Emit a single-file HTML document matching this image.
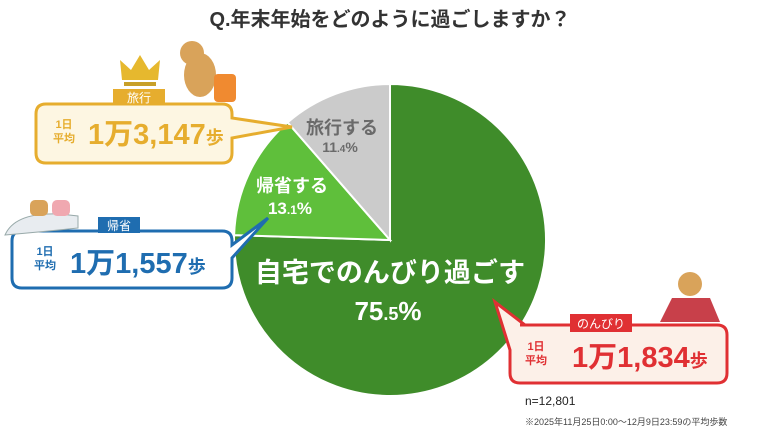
<!DOCTYPE html>
<html><head><meta charset="utf-8"><style>
body{margin:0;width:780px;height:438px;background:#fff;overflow:hidden;font-family:"Liberation Sans","Noto Sans CJK JP",sans-serif}
</style></head><body>
<svg width="780" height="438" viewBox="0 0 780 438" xmlns="http://www.w3.org/2000/svg" font-family="Liberation Sans, Noto Sans CJK JP, sans-serif">
<text x="390" y="26" text-anchor="middle" font-size="20" font-weight="bold" fill="#333">Q.年末年始をどのように過ごしますか？</text>
<!-- pie -->
<g stroke="#fff" stroke-width="2">
<path d="M390 240 L390 84 A156 156 0 1 1 234.1 235.1 Z" fill="#3f8c2a"/>
<path d="M390 240 L234.1 235.1 A156 156 0 0 1 287.6 122.4 Z" fill="#5fbf3b"/>
<path d="M390 240 L287.6 122.4 A156 156 0 0 1 390 84 Z" fill="#cbcbcb"/>
</g>
<text x="342" y="134" text-anchor="middle" font-size="18" font-weight="bold" fill="#6a6a6a">旅行する</text>
<text x="340" y="152" text-anchor="middle" font-size="14" font-weight="bold" fill="#6a6a6a">11<tspan font-size="10">.4</tspan>%</text>
<text x="292" y="192" text-anchor="middle" font-size="18" font-weight="bold" fill="#fff">帰省する</text>
<text x="290" y="214" text-anchor="middle" font-size="17" font-weight="bold" fill="#fff">13<tspan font-size="12">.1</tspan>%</text>
<text x="390" y="282" text-anchor="middle" font-size="27" font-weight="bold" fill="#fff">自宅でのんびり過ごす</text>
<text x="388" y="320" text-anchor="middle" font-size="26" font-weight="bold" fill="#fff">75<tspan font-size="18">.5</tspan>%</text>
<!-- yellow box -->
<path d="M46 104 H222 Q232 104 232 114 V118 L292 127 L232 138 V153 Q232 163 222 163 H46 Q36 163 36 153 V114 Q36 104 46 104 Z" fill="#fdf6e2" stroke="#e6ad2e" stroke-width="3"/>
<rect x="113" y="89" width="52" height="16" fill="#e6ad2e"/>
<text x="139" y="102" text-anchor="middle" font-size="12" fill="#fff">旅行</text>
<text x="64" y="128" text-anchor="middle" font-size="11" font-weight="bold" fill="#e6ad2e">1日</text>
<text x="64" y="142" text-anchor="middle" font-size="11" font-weight="bold" fill="#e6ad2e">平均</text>
<text x="88" y="144" font-size="29" font-weight="bold" fill="#e6ad2e">1万3,147<tspan font-size="18">歩</tspan></text>
<!-- crown -->
<path d="M122 80 L120 60 L131 70 L140 55 L149 70 L160 60 L158 80 Z" fill="#e6b82e"/>
<rect x="124" y="82" width="32" height="4" fill="#c8a02a"/>
<!-- bear travel -->
<ellipse cx="200" cy="75" rx="16" ry="22" fill="#d9a35a"/>
<circle cx="192" cy="53" r="12" fill="#d9a35a"/>
<rect x="214" y="74" width="22" height="28" rx="4" fill="#f08a30"/>
<!-- blue box -->
<path d="M22 231 H222 Q232 231 232 241 V245 L268 218 L232 258 V278 Q232 288 222 288 H22 Q12 288 12 278 V241 Q12 231 22 231 Z" fill="#fff" stroke="#1f6db0" stroke-width="3"/>
<rect x="98" y="217" width="42" height="16" fill="#1f6db0"/>
<text x="119" y="230" text-anchor="middle" font-size="12" fill="#fff">帰省</text>
<text x="45" y="255" text-anchor="middle" font-size="11" font-weight="bold" fill="#1f6db0">1日</text>
<text x="45" y="269" text-anchor="middle" font-size="11" font-weight="bold" fill="#1f6db0">平均</text>
<text x="70" y="273" font-size="29" font-weight="bold" fill="#1f6db0">1万1,557<tspan font-size="18">歩</tspan></text>
<!-- train & bears -->
<path d="M5 235 Q15 212 60 214 L78 216 L78 228 Q40 232 5 235 Z" fill="#e8ecf0" stroke="#9aa" stroke-width="1"/>
<rect x="30" y="200" width="18" height="16" rx="5" fill="#d9a35a"/>
<rect x="52" y="200" width="18" height="16" rx="5" fill="#f0a8b0"/>
<!-- red box -->
<path d="M520 325 H717 Q727 325 727 335 V373 Q727 383 717 383 H520 Q510 383 510 373 V350 L495 302 L525 325 Z" fill="#fcf0e8" stroke="#e03033" stroke-width="3"/>
<rect x="570" y="314" width="62" height="18" fill="#e03033"/>
<text x="601" y="328" text-anchor="middle" font-size="12" fill="#fff">のんびり</text>
<text x="536" y="350" text-anchor="middle" font-size="11" font-weight="bold" fill="#e03033">1日</text>
<text x="536" y="364" text-anchor="middle" font-size="11" font-weight="bold" fill="#e03033">平均</text>
<text x="572" y="367" font-size="29" font-weight="bold" fill="#e03033">1万1,834<tspan font-size="18">歩</tspan></text>
<!-- kotatsu -->
<path d="M660 322 L672 298 L710 298 L720 322 Z" fill="#c8404a"/>
<circle cx="690" cy="284" r="12" fill="#d9a35a"/>
<text x="525" y="405" font-size="12" fill="#222">n=12,801</text>
<text x="525" y="425" font-size="9" fill="#444">※2025年11月25日0:00～12月9日23:59の平均歩数</text>
</svg>
</body></html>
